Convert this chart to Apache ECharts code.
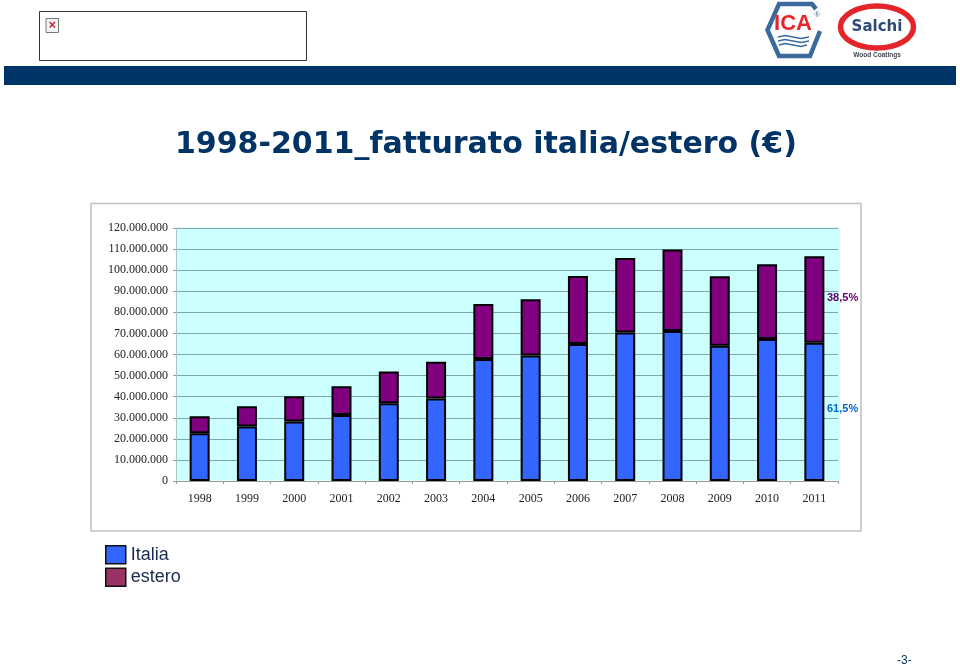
<!DOCTYPE html>
<html>
<head>
<meta charset="utf-8">
<style>html,body{margin:0;padding:0;background:#fff}#c{width:960px;height:666px}</style>
<script src="https://cdn.jsdelivr.net/npm/echarts@6/dist/echarts.min.js"></script>
</head>
<body>
<div id="c"></div>
<script>
const years = ['1998','1999','2000','2001','2002','2003','2004','2005','2006','2007','2008','2009','2010','2011'];
const italia = [22600000,25800000,28200000,31300000,36900000,39100000,57900000,59500000,65000000,70400000,71200000,64200000,67400000,65600000];
const estero = [8100000,9600000,12000000,13600000,15000000,17500000,26100000,26700000,32200000,35400000,38600000,32900000,35400000,41000000];
const titleText = '1998-2011_fatturato italia/estero (€)';

const fmt = v => String(v).replace(/\B(?=(\d{3})+(?!\d))/g, '.');
const navy = '#003366';
const chart = echarts.init(document.getElementById('c'), null, {renderer:'canvas'});

const graphic = [
  {type:'rect', z:-10, shape:{x:91,y:203.5,width:770,height:327.5}, style:{fill:'#fff',stroke:'#c0c0c0',lineWidth:1.5}},
  {type:'rect', z:-9, shape:{x:176.5,y:227.5,width:663.5,height:253}, style:{fill:'#ccffff'}},
  {type:'rect', z:-10, shape:{x:4,y:66,width:952,height:19}, style:{fill:navy}},
  {type:'rect', shape:{x:39.5,y:11.5,width:267,height:49}, style:{fill:'#fff',stroke:'#333',lineWidth:1}},
  {type:'rect', shape:{x:46,y:18.5,width:12.5,height:14}, style:{fill:'#f4f4f4',stroke:'#777',lineWidth:1}},
  {type:'text', style:{x:52.2,y:25.5,text:'×',fill:'#c0203a',font:'bold 13px "Liberation Sans"',align:'center',verticalAlign:'middle'}},
  {type:'polyline', shape:{points:[[816,9],[812,4],[779,4],[767.5,30],[779,56],[810,56],[820,31]]}, style:{fill:'none',stroke:'#3a6b9c',lineWidth:4.5}},
  {type:'text', style:{x:793,y:24,text:'ICA',fill:'#e8262c',font:'bold 22px "Liberation Sans"',align:'center',verticalAlign:'middle'}},
  {type:'polyline', shape:{points:[[778,37],[785,35.5],[793,37],[801,38.5],[809,37]]}, style:{fill:'none',stroke:'#3a6b9c',lineWidth:1.5}},
  {type:'polyline', shape:{points:[[778,41],[785,39.5],[793,41],[801,42.5],[809,41]]}, style:{fill:'none',stroke:'#3a6b9c',lineWidth:1.5}},
  {type:'polyline', shape:{points:[[779,45],[785,43.5],[793,45],[801,46.5],[807,45]]}, style:{fill:'none',stroke:'#3a6b9c',lineWidth:1.5}},
  {type:'text', style:{x:817,y:15,text:'®',fill:'#3a6b9c',font:'7px "Liberation Sans"',align:'center',verticalAlign:'middle'}},
  {type:'ellipse', shape:{cx:877,cy:27,rx:36.5,ry:21}, style:{fill:'#fff',stroke:'#e3242b',lineWidth:5.5}},
  {type:'text', style:{x:877,y:27,text:'Salchi',fill:'#2d4a78',font:'bold 15px "DejaVu Sans"',align:'center',verticalAlign:'middle'}},
  {type:'text', style:{x:877,y:55,text:'Wood Coatings',fill:'#445',font:'bold 6.5px "Liberation Sans"',align:'center',verticalAlign:'middle'}},
  {type:'text', style:{x:827,y:298,text:'38,5%',fill:'#660066',font:'bold 11px "Liberation Sans"',verticalAlign:'middle'}},
  {type:'text', style:{x:827,y:409,text:'61,5%',fill:'#0066cc',font:'bold 11px "Liberation Sans"',verticalAlign:'middle'}},
  {type:'text', style:{x:897,y:661,text:'-3-',fill:navy,font:'12px "Liberation Sans"',verticalAlign:'middle'}}
];

chart.setOption({
  animation:false,
  backgroundColor:'#fff',
  title:{text:titleText,left:170,top:125,textStyle:{fontFamily:'DejaVu Sans',fontWeight:'bold',fontSize:30,color:navy}},
  legend:{
    orient:'vertical',left:105,top:545,padding:0,itemWidth:20,itemHeight:18,itemGap:3,selectedMode:false,
    textStyle:{fontFamily:'Liberation Sans',fontSize:18,color:'#1a2a50'},
    data:[
      {name:'Italia',icon:'rect',itemStyle:{color:'#3366ff',borderColor:'#111',borderWidth:1.5}},
      {name:'estero',icon:'rect',itemStyle:{color:'#993366',borderColor:'#111',borderWidth:1.5}}
    ]
  },
  grid:{left:176,top:228,width:662,height:253,show:false},
  xAxis:{
    type:'category',data:years,
    axisLine:{lineStyle:{color:'#999',width:1}},
    axisTick:{show:true,alignWithLabel:false,length:3,lineStyle:{color:'#999'}},
    axisLabel:{fontFamily:'Liberation Serif',fontSize:12,color:'#222',margin:12,interval:0},
    splitLine:{show:false}
  },
  yAxis:{
    type:'value',min:0,max:120000000,interval:10000000,
    axisLine:{show:true,lineStyle:{color:'#b0c4c4',width:1}},
    axisTick:{show:true,length:3,lineStyle:{color:'#999'}},
    axisLabel:{fontFamily:'Liberation Serif',fontSize:12,color:'#222',margin:8,padding:[2,0,0,0],formatter:fmt},
    splitLine:{show:true,lineStyle:{color:'#7fa8a8',width:1}}
  },
  series:[
    {name:'Italia',type:'bar',stack:'t',data:italia,barWidth:20,itemStyle:{color:'#3366ff',borderColor:'#000',borderWidth:2}},
    {name:'estero',type:'bar',stack:'t',data:estero,barWidth:20,itemStyle:{color:'#800080',borderColor:'#000',borderWidth:2}}
  ],
  graphic:graphic
});
</script>
</body>
</html>
